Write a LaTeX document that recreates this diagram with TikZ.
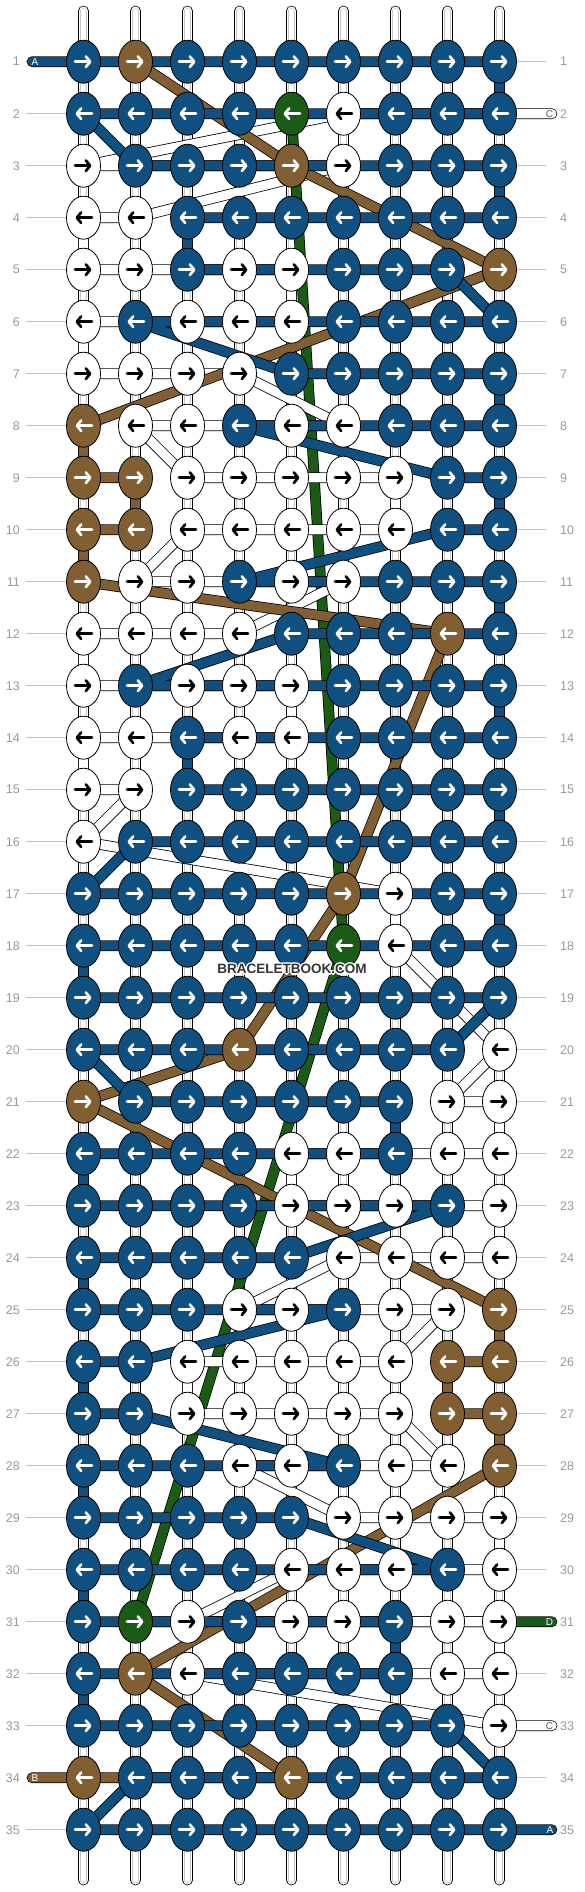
\documentclass[tikz,border=0pt]{standalone}
\usepackage{fontspec}
\setmainfont{Liberation Sans}
\usetikzlibrary{arrows.meta, shapes.geometric}

\definecolor{cblue}{RGB}{15,80,128}
\definecolor{cbrown}{RGB}{130,95,50}
\definecolor{cgreen}{RGB}{26,92,22}
\definecolor{cgrey}{RGB}{153,153,153}
\definecolor{cguide}{RGB}{190,190,190}

\tikzset{
  arrow col/.store in=\arcol, arrow col=white,
  knot/.style={ellipse, draw=black, line width=0.8pt, minimum width=34pt, minimum height=43pt, inner sep=0pt},
  kB/.style={fill=cblue, arrow col=white},
  kR/.style={fill=cbrown, arrow col=white},
  kG/.style={fill=cgreen, arrow col=white},
  kW/.style={fill=white, arrow col=black},
  arR/.style={path picture={\draw[\arcol, line width=2.7pt, line cap=round, -{Straight Barb[length=4.3pt,width=10.5pt,round]}]
      ([xshift=-8.5pt]path picture bounding box.center) -- ([xshift=8pt]path picture bounding box.center);}},
  arL/.style={path picture={\draw[\arcol, line width=2.7pt, line cap=round, -{Straight Barb[length=4.3pt,width=10.5pt,round]}]
      ([xshift=8.5pt]path picture bounding box.center) -- ([xshift=-8pt]path picture bounding box.center);}},
  strand/.style={draw=black, line width=0.75pt, double=#1, double distance=9.2pt, line join=round, line cap=round},
  baseline/.style={draw=cgrey!55, line width=0.6pt, double=white, double distance=5pt, line cap=round},
  rowlab/.style={text=cgrey, font=\fontsize{12.5}{12.5}\selectfont, inner sep=0pt},
  guide/.style={cguide, line width=0.9pt},
  stublab/.style={font=\fontsize{10}{10}\selectfont, inner sep=0pt},
  wmtext/.style={font=\bfseries\fontsize{13.5}{13.5}\selectfont, inner sep=0pt}
}

\begin{document}
\begin{tikzpicture}[x=1pt, y=-1pt]
    \path[use as bounding box, fill=white] (0,0) rectangle (584,1892);

    % grid points
    \foreach \r in {1,...,35}
      \foreach \c in {1,...,9}
        \coordinate (p-\r-\c) at ({83.5+52*(\c-1)},{61.7+52*(\r-1)});
    \foreach \c in {1,...,9} {
      \coordinate (top-\c) at ({83.5+52*(\c-1)},11);
      \coordinate (bot-\c) at ({83.5+52*(\c-1)},1880);
    }
    \coordinate (aIn) at (32,61.7);
    \coordinate (cIn) at (552,113.7);
    \coordinate (dOut) at (552,1621.7);
    \coordinate (cOut) at (552,1725.7);
    \coordinate (bOut) at (32,1777.7);
    \coordinate (aOut) at (552,1829.7);

    % base strings
    \foreach \c in {1,...,9} {
      \draw[strand=white] (top-\c) -- (bot-\c);
      \draw[baseline] (top-\c) -- (bot-\c);
    }

    % row numbers
    \foreach \r in {1,...,35} {
      \node[rowlab, anchor=east] (ln-\r) at (20,{61.7+52*(\r-1)}) {\r};
      \node[rowlab, anchor=west] (rn-\r) at (560,{61.7+52*(\r-1)}) {\r};
      \draw[guide] ([xshift=6pt]ln-\r.east) -- (p-\r-1);
      \draw[guide] (p-\r-9) -- ([xshift=-14pt]rn-\r.west);
    }

    % string D
    \draw[strand=cgreen] (p-2-5) -- (p-18-6) -- (p-31-2) -- (dOut);

    % string C
    \draw[strand=white] (cIn) -- (p-2-6) -- (p-3-1) -- (p-3-6) -- (p-4-2) -- (p-4-1) -- (p-5-1) -- (p-5-5)
      -- (p-6-5) -- (p-6-1) -- (p-7-1) -- (p-7-4) -- (p-8-6) -- (p-8-2) -- (p-9-3) -- (p-9-7) -- (p-10-7)
      -- (p-10-3) -- (p-11-2) -- (p-11-6) -- (p-12-4) -- (p-12-1) -- (p-13-1) -- (p-13-5) -- (p-14-5)
      -- (p-14-1) -- (p-15-1) -- (p-15-2) -- (p-16-1) -- (p-17-7) -- (p-18-7) -- (p-20-9) -- (p-21-8)
      -- (p-21-9) -- (p-22-9) -- (p-22-5) -- (p-23-5) -- (p-23-9) -- (p-24-9) -- (p-24-6) -- (p-25-4)
      -- (p-25-8) -- (p-26-7) -- (p-26-3) -- (p-27-3) -- (p-27-7) -- (p-28-8) -- (p-28-4) -- (p-29-6)
      -- (p-29-9) -- (p-30-9) -- (p-30-5) -- (p-31-3) -- (p-31-9) -- (p-32-9) -- (p-32-3) -- (p-33-9) -- (cOut);

    % string B
    \draw[strand=cbrown] (p-1-2) -- (p-3-5) -- (p-5-9) -- (p-8-1) -- (p-9-1) -- (p-9-2) -- (p-10-2) -- (p-10-1)
      -- (p-11-1) -- (p-12-8) -- (p-17-6) -- (p-20-4) -- (p-21-1) -- (p-25-9) -- (p-26-9) -- (p-26-8)
      -- (p-27-8) -- (p-27-9) -- (p-28-9) -- (p-32-2) -- (p-34-5) -- (bOut);

    % string A
    \draw[strand=cblue] (aIn) -- (p-1-9) -- (p-2-9) -- (p-2-1) -- (p-3-2) -- (p-3-9) -- (p-4-9) -- (p-4-3)
      -- (p-5-3) -- (p-5-8) -- (p-6-9) -- (p-6-2) -- (p-7-5) -- (p-7-9) -- (p-8-9) -- (p-8-4) -- (p-9-8)
      -- (p-9-9) -- (p-10-9) -- (p-10-8) -- (p-11-4) -- (p-11-9) -- (p-12-9) -- (p-12-5) -- (p-13-2)
      -- (p-13-9) -- (p-14-9) -- (p-14-3) -- (p-15-3) -- (p-15-9) -- (p-16-9) -- (p-16-2) -- (p-17-1)
      -- (p-17-9) -- (p-18-9) -- (p-18-1) -- (p-19-1) -- (p-19-9) -- (p-20-8) -- (p-20-1) -- (p-21-2)
      -- (p-21-7) -- (p-22-7) -- (p-22-1) -- (p-23-1) -- (p-23-8) -- (p-24-5) -- (p-24-1) -- (p-25-1)
      -- (p-25-6) -- (p-26-2) -- (p-26-1) -- (p-27-1) -- (p-27-2) -- (p-28-6) -- (p-28-1) -- (p-29-1)
      -- (p-29-5) -- (p-30-8) -- (p-30-1) -- (p-31-1) -- (p-31-7) -- (p-32-7) -- (p-32-1) -- (p-33-1)
      -- (p-33-8) -- (p-34-9) -- (p-34-2) -- (p-35-1) -- (aOut);

    % knots
    \foreach \line [count=\r] in {
      {B,R,B,B,B,B,B,B,B}, {B,B,B,B,G,W,B,B,B}, {W,B,B,B,R,W,B,B,B}, {W,W,B,B,B,B,B,B,B},
      {W,W,B,W,W,B,B,B,R}, {W,B,W,W,W,B,B,B,B}, {W,W,W,W,B,B,B,B,B}, {R,W,W,B,W,W,B,B,B},
      {R,R,W,W,W,W,W,B,B}, {R,R,W,W,W,W,W,B,B}, {R,W,W,B,W,W,B,B,B}, {W,W,W,W,B,B,B,R,B},
      {W,B,W,W,W,B,B,B,B}, {W,W,B,W,W,B,B,B,B}, {W,W,B,B,B,B,B,B,B}, {W,B,B,B,B,B,B,B,B},
      {B,B,B,B,B,R,W,B,B}, {B,B,B,B,B,G,W,B,B}, {B,B,B,B,B,B,B,B,B}, {B,B,B,R,B,B,B,B,W},
      {R,B,B,B,B,B,B,W,W}, {B,B,B,B,W,W,B,W,W}, {B,B,B,B,W,W,W,B,W}, {B,B,B,B,B,W,W,W,W},
      {B,B,B,W,W,B,W,W,R}, {B,B,W,W,W,W,W,R,R}, {B,B,W,W,W,W,W,R,R}, {B,B,B,W,W,B,W,W,R},
      {B,B,B,B,B,W,W,W,W}, {B,B,B,B,W,W,W,B,W}, {B,G,W,B,W,W,B,W,W}, {B,R,W,B,B,B,B,W,W},
      {B,B,B,B,B,B,B,B,W}, {R,B,B,B,R,B,B,B,B}, {B,B,B,B,B,B,B,B,B}} {
      \ifodd\r \def\dir{R}\else \def\dir{L}\fi
      \foreach \k [count=\c] in \line
        \node[knot, k\k, ar\dir] (k-\r-\c) at (p-\r-\c) {};
    }

    % string ends
    \node[stublab, text=white] (labA1) at (35,61.7) {A};
    \node[stublab, text=black!65] (labC1) at (549.5,113.7) {C};
    \node[stublab, text=white] (labD) at (549.5,1621.7) {D};
    \node[stublab, text=black!65] (labC2) at (549.5,1725.7) {C};
    \node[stublab, text=white] (labB) at (35,1777.7) {B};
    \node[stublab, text=white] (labA2) at (550,1829.7) {A};

    % watermark with white halo
    \foreach \dx/\dy [count=\i] in {-1/-1,0/-1,1/-1,-1/0,1/0,-1/1,0/1,1/1,-1.5/0,1.5/0,0/-1.5,0/1.5}
      \node[wmtext, text=white] (wmh-\i) at (292+\dx,969+\dy) {BRACELETBOOK.COM};
    \node[wmtext, text=black!80] (wm) at (292,969) {BRACELETBOOK.COM};
\end{tikzpicture}
\end{document}
